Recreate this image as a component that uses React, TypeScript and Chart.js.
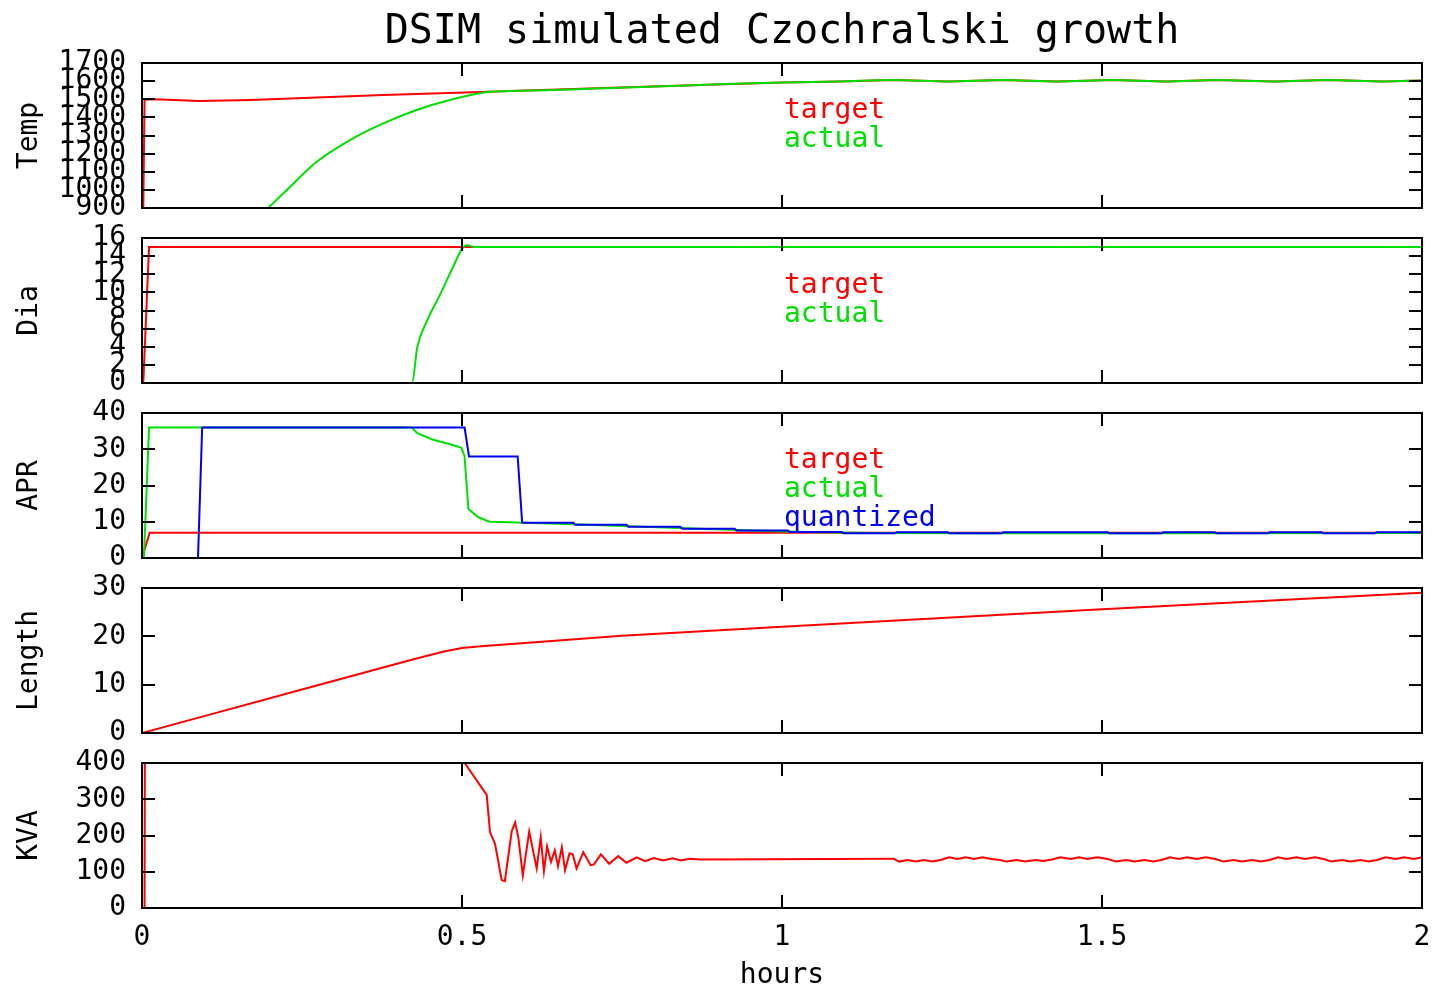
import React, { useEffect, useRef } from 'react';
import { Chart, registerables } from 'chart.js';

Chart.register(...registerables);

// ---------- text ----------
const TITLE = 'DSIM simulated Czochralski growth';
const X_TITLE = 'hours';
const X_TICKS = [0, 0.5, 1, 1.5, 2];

// ---------- Temp ----------
const tempTargetHours = [0.002, 0.004, 0.03, 0.09, 0.17, 0.377, 0.53, 0.575, 0.872, 1.0, 1.09, 1.173, 1.26, 1.345, 1.43, 1.516, 1.6, 1.68, 1.77, 1.852, 1.94, 2.0];
const tempTargetValues = [900, 1500, 1498, 1490, 1496, 1523, 1540, 1545, 1579, 1593, 1598, 1606, 1598, 1606, 1598, 1606, 1598, 1606, 1598, 1606, 1598, 1604];
const tempActualHours = [0.197, 0.221, 0.273, 0.325, 0.377, 0.429, 0.481, 0.544, 0.575, 0.872, 1.0, 1.09, 1.173, 1.26, 1.345, 1.43, 1.516, 1.6, 1.68, 1.77, 1.852, 1.94, 2.0];
const tempActualValues = [900, 981, 1155, 1275, 1367, 1441, 1496, 1542, 1545, 1579, 1593, 1598, 1606, 1598, 1606, 1598, 1606, 1598, 1606, 1598, 1606, 1598, 1604];

// ---------- Dia ----------
const diaTargetHours = [0, 0.002, 0.011, 2.0];
const diaTargetValues = [0, 0, 15, 15];
const diaActualHours = [0, 0.422, 0.43, 0.445, 0.466, 0.486, 0.5, 0.508, 0.52, 2.0];
const diaActualValues = [0, 0, 3.9, 6.8, 9.8, 12.8, 14.8, 15.2, 15, 15];

// ---------- APR ----------
const aprTargetHours = [0, 0.001, 0.012, 2.0];
const aprTargetValues = [0, 0, 7, 7];
const aprActualHours = [0, 0.003, 0.011, 0.422, 0.4295, 0.4535, 0.483, 0.499, 0.504, 0.51, 0.525, 0.543, 0.573, 0.674, 0.75, 0.85, 0.95, 1.05, 1.15, 1.3, 1.6, 2.0];
const aprActualValues = [0, 0, 36, 36, 34.5, 32.7, 31.3, 30.4, 28.1, 13.5, 11.3, 10.0, 9.85, 9.3, 8.8, 8.2, 7.6, 7.1, 6.9, 6.85, 6.85, 6.9];
const aprQuantHours = [0, 0.0875, 0.094, 0.504, 0.511, 0.587, 0.594, 0.674, 0.677, 0.757, 0.76, 0.841, 0.844, 0.926, 0.929, 1.009, 1.012, 1.093, 1.096, 1.176, 1.179, 1.259, 1.262, 1.343, 1.346, 1.426, 1.429, 1.509, 1.512, 1.593, 1.596, 1.676, 1.679, 1.759, 1.762, 1.843, 1.846, 1.926, 1.929, 2.0];
const aprQuantValues = [0, 0, 36, 36, 28, 28, 9.75, 9.75, 9.2, 9.2, 8.65, 8.65, 8.1, 8.1, 7.6, 7.6, 7.15, 7.15, 6.8, 6.8, 7.1, 7.1, 6.8, 6.8, 7.1, 7.1, 7.1, 7.1, 6.8, 6.8, 7.1, 7.1, 6.8, 6.8, 7.1, 7.1, 6.8, 6.8, 7.1, 7.1];

// ---------- Length ----------
const lengthHours = [0, 0.1, 0.247, 0.42, 0.47, 0.5, 0.53, 0.75, 1.0, 1.25, 1.5, 1.75, 2.0];
const lengthValues = [0, 3.6, 8.9, 15.1, 16.8, 17.6, 17.95, 20.1, 22.0, 23.8, 25.6, 27.3, 29.0];

// ---------- KVA ----------
const kvaHours = [
  0, 0.004, 0.005, 0.48,
  0.505, 0.5386, 0.5438, 0.5516, 0.562, 0.567, 0.5777, 0.583, 0.588, 0.595,
  0.605, 0.6167, 0.623, 0.628, 0.633, 0.639, 0.645, 0.65, 0.656, 0.661,
  0.668, 0.673, 0.679, 0.6895, 0.701, 0.706, 0.717, 0.73, 0.744, 0.757,
  0.773, 0.786, 0.8, 0.814, 0.829, 0.842, 0.856, 0.872,
  1.174, 1.183, 1.196, 1.209, 1.222, 1.235, 1.248, 1.261, 1.274, 1.287, 1.3, 1.313, 1.327,
  1.3406, 1.351, 1.367, 1.38, 1.396, 1.409, 1.422, 1.435, 1.451, 1.464,
  1.477, 1.493, 1.509, 1.522, 1.538, 1.551, 1.567, 1.58, 1.593, 1.606,
  1.62, 1.633, 1.648, 1.662, 1.677, 1.69, 1.706, 1.719, 1.735, 1.748,
  1.762, 1.775, 1.788, 1.804, 1.817, 1.833, 1.846, 1.859, 1.875, 1.888,
  1.904, 1.917, 1.93, 1.943, 1.959, 1.972, 1.988, 2.0,
];
const kvaValues = [
  0, 0, 900, 462,
  398, 312, 209, 177, 77, 74, 212, 236, 195, 90,
  211, 109, 195, 102, 170, 127, 159, 115, 167, 104,
  151, 148, 109, 154, 118, 120, 148, 122, 143, 125,
  140, 129, 138, 131, 137, 131, 136, 134,
  136, 128, 132.6, 128, 132.6, 128, 132.6, 140, 135, 140, 135, 140, 135,
  132.6, 128, 132.6, 128, 132.6, 130, 134, 140, 135, 140,
  135, 140, 135, 128, 132.6, 128, 132.6, 128, 132.6, 140,
  135, 140, 135, 140, 135, 128, 132.6, 128, 132.6, 128,
  132.6, 140, 135, 140, 135, 140, 135, 128, 132.6, 128,
  132.6, 128, 132.6, 140, 135, 140, 135, 140,
];

// ---------- styling ----------
const RED = '#ff0000';
const GREEN = '#00e000';
const BLUE = '#0000ee';
const FONT = "'DejaVu Sans Mono', monospace";
const W = 1437;

type Series = { label: string; hours: number[]; values: number[]; color: string; order: number; smooth?: boolean };
type Panel = {
  name: string; min: number; max: number; step: number; series: Series[];
  plotTop: number; legend: boolean; first?: boolean; last?: boolean;
};

const PANELS: Panel[] = [
  { name: 'Temp', min: 900, max: 1700, step: 100, plotTop: 63, legend: true, first: true, series: [
    { label: 'target', hours: tempTargetHours, values: tempTargetValues, color: RED, order: 3 },
    { label: 'actual', hours: tempActualHours, values: tempActualValues, color: GREEN, order: 2, smooth: true },
  ] },
  { name: 'Dia', min: 0, max: 16, step: 2, plotTop: 238, legend: true, series: [
    { label: 'target', hours: diaTargetHours, values: diaTargetValues, color: RED, order: 3 },
    { label: 'actual', hours: diaActualHours, values: diaActualValues, color: GREEN, order: 2, smooth: true },
  ] },
  { name: 'APR', min: 0, max: 40, step: 10, plotTop: 413, legend: true, series: [
    { label: 'target', hours: aprTargetHours, values: aprTargetValues, color: RED, order: 3 },
    { label: 'actual', hours: aprActualHours, values: aprActualValues, color: GREEN, order: 2 },
    { label: 'quantized', hours: aprQuantHours, values: aprQuantValues, color: BLUE, order: 1 },
  ] },
  { name: 'Length', min: 0, max: 30, step: 10, plotTop: 588, legend: false, series: [
    { label: 'length', hours: lengthHours, values: lengthValues, color: RED, order: 1 },
  ] },
  { name: 'KVA', min: 0, max: 400, step: 100, plotTop: 763, legend: false, last: true, series: [
    { label: 'kva', hours: kvaHours, values: kvaValues, color: RED, order: 1 },
  ] },
];

const PLOT_H = 145;
const PAD = 20;
const X_AXIS_H = 82;

function canvasGeom(p: Panel) {
  if (p.first) return { top: 0, height: p.plotTop + PLOT_H + PAD };
  if (p.last) return { top: p.plotTop - PAD, height: PAD + PLOT_H + X_AXIS_H };
  return { top: p.plotTop - PAD, height: PAD + PLOT_H + PAD };
}

function makePlugin(p: Panel) {
  return {
    id: 'boxTicksLegend',
    afterDatasetsDraw(chart: any) {
      const { ctx, chartArea: a, scales } = chart;
      const xs = scales.x;
      const ys = scales.y;
      const L = 13;
      ctx.save();
      ctx.strokeStyle = '#000';
      ctx.lineWidth = 2;
      ctx.strokeRect(a.left, a.top, a.right - a.left, a.bottom - a.top);
      ctx.beginPath();
      ys.ticks.forEach((t: any) => {
        const y = Math.round(ys.getPixelForValue(t.value));
        ctx.moveTo(a.left, y); ctx.lineTo(a.left + L, y);
        ctx.moveTo(a.right, y); ctx.lineTo(a.right - L, y);
      });
      X_TICKS.forEach((v) => {
        const x = Math.round(xs.getPixelForValue(v));
        ctx.moveTo(x, a.top); ctx.lineTo(x, a.top + L);
        ctx.moveTo(x, a.bottom); ctx.lineTo(x, a.bottom - L);
      });
      ctx.stroke();
      if (p.legend) {
        ctx.font = `28px ${FONT}`;
        ctx.textAlign = 'left';
        ctx.textBaseline = 'alphabetic';
        const lx = a.left + (a.right - a.left) * 0.5 + 2;
        p.series.forEach((s, i) => {
          ctx.fillStyle = s.color;
          ctx.fillText(s.label, lx, a.top + 55 + 29 * i);
        });
      }
      ctx.restore();
    },
  };
}

function makeConfig(p: Panel): any {
  const tickFont = { family: FONT, size: 28, weight: 'normal' };
  const xScale: any = p.last
    ? {
        type: 'linear', min: 0, max: 2,
        afterBuildTicks: (s: any) => { s.ticks = X_TICKS.map((v) => ({ value: v })); },
        grid: { display: false, drawTicks: true, tickLength: 13 },
        border: { display: false },
        ticks: { color: '#000', font: tickFont, padding: 0, maxRotation: 0, autoSkip: false, callback: (v: any) => String(v) },
        title: { display: true, text: X_TITLE, color: '#000', font: { ...tickFont, lineHeight: 1.0 }, padding: { top: 0, bottom: 0 } },
        afterFit: (s: any) => { s.height = X_AXIS_H; },
      }
    : { type: 'linear', min: 0, max: 2, display: false };
  return {
    type: 'line',
    data: {
      datasets: p.series.map((s) => ({
        label: s.label,
        data: s.hours.map((h, i) => ({ x: h, y: s.values[i] })),
        borderColor: s.color,
        backgroundColor: s.color,
        borderWidth: 2,
        pointRadius: 0,
        tension: 0,
        cubicInterpolationMode: s.smooth ? 'monotone' : 'default',
        fill: false,
        order: s.order,
      })),
    },
    options: {
      animation: false,
      responsive: false,
      events: [],
      layout: { padding: { left: 0, right: 15, top: p.first ? 0 : PAD, bottom: p.last ? 0 : PAD } },
      plugins: {
        legend: { display: false },
        tooltip: { enabled: false },
        title: p.first
          ? { display: true, text: TITLE, color: '#000', fullSize: false, font: { family: FONT, size: 40, weight: 'normal', lineHeight: 1.2 }, padding: { top: 9, bottom: 6 } }
          : { display: false },
      },
      scales: {
        x: xScale,
        y: {
          type: 'linear', min: p.min, max: p.max,
          grid: { display: false, drawTicks: true, tickLength: 16 },
          border: { display: false },
          ticks: { stepSize: p.step, autoSkip: false, color: '#000', font: tickFont, padding: 0, callback: (v: any) => String(v) },
          title: { display: true, text: p.name, color: '#000', font: tickFont, padding: { top: 13, bottom: 0 } },
          afterFit: (s: any) => { s.width = 142; },
        },
      },
    },
    plugins: [makePlugin(p)],
  };
}

export default function App() {
  const refs = useRef<(HTMLCanvasElement | null)[]>([]);
  useEffect(() => {
    const charts = PANELS.map((p, i) => new Chart(refs.current[i] as HTMLCanvasElement, makeConfig(p)));
    return () => charts.forEach((c) => c.destroy());
  }, []);
  return (
    <div style={{ position: 'absolute', left: 0, top: 0, width: W, height: 990, background: '#fff', overflow: 'hidden' }}>
      {PANELS.map((p, i) => {
        const g = canvasGeom(p);
        return (
          <canvas
            key={p.name}
            ref={(el) => { refs.current[i] = el; }}
            width={W}
            height={g.height}
            style={{ position: 'absolute', left: 0, top: g.top, width: W, height: g.height }}
          />
        );
      })}
    </div>
  );
}
